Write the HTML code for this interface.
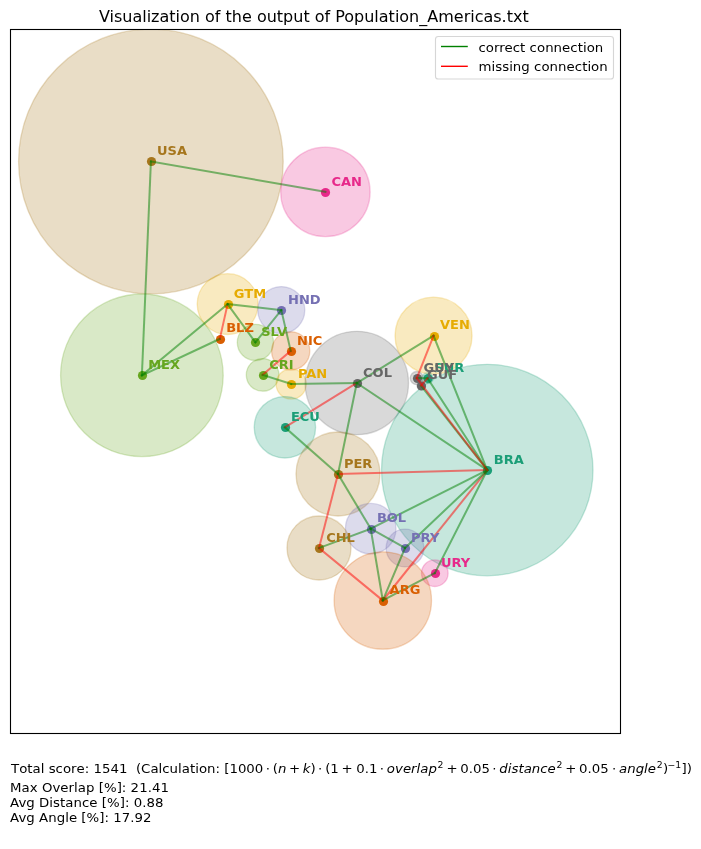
<!DOCTYPE html>
<html lang="en"><head><meta charset="utf-8"><title>Visualization of the output of Population_Americas.txt</title>
<style>html,body{margin:0;padding:0;background:#fff}body{width:701px;height:849px;overflow:hidden}svg{display:block;will-change:transform}text{font-family:"DejaVu Sans","Liberation Sans",sans-serif;fill:#000}.lbl{font-weight:bold;font-size:13.0px}.it{font-style:italic}</style></head><body>
<svg width="701" height="849" viewBox="0 0 701 849">
<rect width="701" height="849" fill="#fff"/>
<defs><clipPath id="ax"><rect x="10.5" y="29.5" width="610" height="704"/></clipPath></defs>
<g clip-path="url(#ax)">
<g stroke-width="1.33">
<circle cx="150.9" cy="161.5" r="132.3" fill="#a6761d" fill-opacity="0.25" stroke="#a6761d" stroke-opacity="0.25"/>
<circle cx="325.4" cy="191.9" r="44.7" fill="#e7298a" fill-opacity="0.25" stroke="#e7298a" stroke-opacity="0.25"/>
<circle cx="141.9" cy="375.3" r="81.3" fill="#66a61e" fill-opacity="0.25" stroke="#66a61e" stroke-opacity="0.25"/>
<circle cx="227.6" cy="304.1" r="30.4" fill="#e6ab02" fill-opacity="0.25" stroke="#e6ab02" stroke-opacity="0.25"/>
<circle cx="281.3" cy="310.1" r="23.5" fill="#7570b3" fill-opacity="0.25" stroke="#7570b3" stroke-opacity="0.25"/>
<circle cx="219.8" cy="338.9" r="1.5" fill="#d95f02" fill-opacity="0.25" stroke="#d95f02" stroke-opacity="0.25"/>
<circle cx="255.4" cy="342.4" r="18.1" fill="#66a61e" fill-opacity="0.25" stroke="#66a61e" stroke-opacity="0.25"/>
<circle cx="290.7" cy="350.9" r="19.1" fill="#d95f02" fill-opacity="0.25" stroke="#d95f02" stroke-opacity="0.25"/>
<circle cx="262.6" cy="374.9" r="16.3" fill="#66a61e" fill-opacity="0.25" stroke="#66a61e" stroke-opacity="0.25"/>
<circle cx="291.2" cy="384.0" r="15.1" fill="#e6ab02" fill-opacity="0.25" stroke="#e6ab02" stroke-opacity="0.25"/>
<circle cx="356.8" cy="383.0" r="51.7" fill="#666666" fill-opacity="0.25" stroke="#666666" stroke-opacity="0.25"/>
<circle cx="433.55" cy="335.7" r="38.5" fill="#e6ab02" fill-opacity="0.25" stroke="#e6ab02" stroke-opacity="0.25"/>
<circle cx="284.9" cy="427.3" r="30.7" fill="#1b9e77" fill-opacity="0.25" stroke="#1b9e77" stroke-opacity="0.25"/>
<circle cx="338.0" cy="474.0" r="42.0" fill="#a6761d" fill-opacity="0.25" stroke="#a6761d" stroke-opacity="0.25"/>
<circle cx="487.25" cy="470.1" r="105.75" fill="#1b9e77" fill-opacity="0.25" stroke="#1b9e77" stroke-opacity="0.25"/>
<circle cx="370.7" cy="528.7" r="25.3" fill="#7570b3" fill-opacity="0.25" stroke="#7570b3" stroke-opacity="0.25"/>
<circle cx="319.0" cy="548.0" r="32.0" fill="#a6761d" fill-opacity="0.25" stroke="#a6761d" stroke-opacity="0.25"/>
<circle cx="405.0" cy="548.0" r="18.9" fill="#7570b3" fill-opacity="0.25" stroke="#7570b3" stroke-opacity="0.25"/>
<circle cx="434.8" cy="573.2" r="13.3" fill="#e7298a" fill-opacity="0.25" stroke="#e7298a" stroke-opacity="0.25"/>
<circle cx="382.8" cy="600.5" r="48.7" fill="#d95f02" fill-opacity="0.25" stroke="#d95f02" stroke-opacity="0.25"/>
<circle cx="427.6" cy="378.2" r="5.5" fill="#1b9e77" fill-opacity="0.25" stroke="#1b9e77" stroke-opacity="0.25"/>
<circle cx="416.8" cy="378.1" r="6.6" fill="#666666" fill-opacity="0.25" stroke="#666666" stroke-opacity="0.25"/>
<circle cx="421.0" cy="385.6" r="4.0" fill="#666666" fill-opacity="0.25" stroke="#666666" stroke-opacity="0.25"/>
</g>
<g>
<circle cx="151.5" cy="161.5" r="4.6" fill="#a6761d"/>
<circle cx="325.5" cy="192.5" r="4.6" fill="#e7298a"/>
<circle cx="142.5" cy="375.5" r="4.6" fill="#66a61e"/>
<circle cx="228.5" cy="304.5" r="4.6" fill="#e6ab02"/>
<circle cx="281.5" cy="310.5" r="4.6" fill="#7570b3"/>
<circle cx="220.5" cy="339.5" r="4.6" fill="#d95f02"/>
<circle cx="255.5" cy="342.5" r="4.6" fill="#66a61e"/>
<circle cx="291.5" cy="351.5" r="4.6" fill="#d95f02"/>
<circle cx="263.5" cy="375.5" r="4.6" fill="#66a61e"/>
<circle cx="291.5" cy="384.5" r="4.6" fill="#e6ab02"/>
<circle cx="357.5" cy="383.5" r="4.6" fill="#666666"/>
<circle cx="434.5" cy="336.5" r="4.6" fill="#e6ab02"/>
<circle cx="285.5" cy="427.5" r="4.6" fill="#1b9e77"/>
<circle cx="338.5" cy="474.5" r="4.6" fill="#a6761d"/>
<circle cx="487.5" cy="470.5" r="4.6" fill="#1b9e77"/>
<circle cx="371.5" cy="529.5" r="4.6" fill="#7570b3"/>
<circle cx="319.5" cy="548.5" r="4.6" fill="#a6761d"/>
<circle cx="405.5" cy="548.5" r="4.6" fill="#7570b3"/>
<circle cx="435.5" cy="573.5" r="4.6" fill="#e7298a"/>
<circle cx="383.5" cy="601.5" r="4.6" fill="#d95f02"/>
<circle cx="428.0" cy="378.5" r="4.6" fill="#1b9e77"/>
<circle cx="417.5" cy="378.5" r="4.6" fill="#666666"/>
<circle cx="421.5" cy="386.0" r="4.6" fill="#666666"/>
</g>
<g stroke-width="2.0" stroke-opacity="0.5" stroke-linecap="square" fill="none">
<line x1="227.6" y1="304.1" x2="219.8" y2="338.9" stroke="#ff0000"/>
<line x1="290.7" y1="350.9" x2="262.6" y2="374.9" stroke="#ff0000"/>
<line x1="356.8" y1="383.0" x2="284.9" y2="427.3" stroke="#ff0000"/>
<line x1="338.0" y1="474.0" x2="487.25" y2="470.1" stroke="#ff0000"/>
<line x1="338.0" y1="474.0" x2="319.0" y2="548.0" stroke="#ff0000"/>
<line x1="319.0" y1="548.0" x2="382.8" y2="600.5" stroke="#ff0000"/>
<line x1="382.8" y1="600.5" x2="487.25" y2="470.1" stroke="#ff0000"/>
<line x1="150.9" y1="161.5" x2="325.4" y2="191.9" stroke="#008000"/>
<line x1="150.9" y1="161.5" x2="141.9" y2="375.3" stroke="#008000"/>
<line x1="141.9" y1="375.3" x2="227.6" y2="304.1" stroke="#008000"/>
<line x1="141.9" y1="375.3" x2="219.8" y2="338.9" stroke="#008000"/>
<line x1="227.6" y1="304.1" x2="281.3" y2="310.1" stroke="#008000"/>
<line x1="227.6" y1="304.1" x2="255.4" y2="342.4" stroke="#008000"/>
<line x1="281.3" y1="310.1" x2="255.4" y2="342.4" stroke="#008000"/>
<line x1="281.3" y1="310.1" x2="290.7" y2="350.9" stroke="#008000"/>
<line x1="262.6" y1="374.9" x2="291.2" y2="384.0" stroke="#008000"/>
<line x1="291.2" y1="384.0" x2="356.8" y2="383.0" stroke="#008000"/>
<line x1="356.8" y1="383.0" x2="433.55" y2="335.7" stroke="#008000"/>
<line x1="356.8" y1="383.0" x2="338.0" y2="474.0" stroke="#008000"/>
<line x1="356.8" y1="383.0" x2="487.25" y2="470.1" stroke="#008000"/>
<line x1="433.55" y1="335.7" x2="487.25" y2="470.1" stroke="#008000"/>
<line x1="284.9" y1="427.3" x2="338.0" y2="474.0" stroke="#008000"/>
<line x1="338.0" y1="474.0" x2="370.7" y2="528.7" stroke="#008000"/>
<line x1="370.7" y1="528.7" x2="319.0" y2="548.0" stroke="#008000"/>
<line x1="370.7" y1="528.7" x2="382.8" y2="600.5" stroke="#008000"/>
<line x1="370.7" y1="528.7" x2="405.0" y2="548.0" stroke="#008000"/>
<line x1="370.7" y1="528.7" x2="487.25" y2="470.1" stroke="#008000"/>
<line x1="405.0" y1="548.0" x2="382.8" y2="600.5" stroke="#008000"/>
<line x1="405.0" y1="548.0" x2="487.25" y2="470.1" stroke="#008000"/>
<line x1="382.8" y1="600.5" x2="434.8" y2="573.2" stroke="#008000"/>
<line x1="434.8" y1="573.2" x2="487.25" y2="470.1" stroke="#008000"/>
<line x1="416.8" y1="378.1" x2="427.6" y2="378.2" stroke="#008000"/>
<line x1="427.6" y1="378.2" x2="487.25" y2="470.1" stroke="#008000"/>
<line x1="421.0" y1="385.6" x2="487.25" y2="470.1" stroke="#008000"/>
<line x1="416.8" y1="378.1" x2="433.55" y2="335.7" stroke="#ff0000"/>
<line x1="416.8" y1="378.1" x2="487.25" y2="470.1" stroke="#ff0000"/>
<line x1="427.6" y1="378.2" x2="421.0" y2="385.6" stroke="#ff0000"/>
</g>
<g class="lbl">
<text x="157.0" y="155.3" style="fill:#a6761d">USA</text>
<text x="331.5" y="185.6" style="fill:#e7298a">CAN</text>
<text x="148.2" y="368.6" style="fill:#66a61e">MEX</text>
<text x="233.85" y="297.5" style="fill:#e6ab02">GTM</text>
<text x="288.0" y="303.5" style="fill:#7570b3">HND</text>
<text x="226.2" y="331.8" style="fill:#d95f02">BLZ</text>
<text x="261.15" y="336.2" style="fill:#66a61e">SLV</text>
<text x="297.1" y="344.5" style="fill:#d95f02">NIC</text>
<text x="269.15" y="369.1" style="fill:#66a61e">CRI</text>
<text x="297.9" y="377.5" style="fill:#e6ab02">PAN</text>
<text x="363.05" y="376.5" style="fill:#666666">COL</text>
<text x="440.0" y="328.8" style="fill:#e6ab02">VEN</text>
<text x="290.9" y="420.5" style="fill:#1b9e77">ECU</text>
<text x="343.9" y="467.7" style="fill:#a6761d">PER</text>
<text x="493.8" y="463.7" style="fill:#1b9e77">BRA</text>
<text x="376.9" y="522.1" style="fill:#7570b3">BOL</text>
<text x="326.15" y="541.7" style="fill:#a6761d">CHL</text>
<text x="411.1" y="541.7" style="fill:#7570b3">PRY</text>
<text x="441.0" y="566.6" style="fill:#e7298a">URY</text>
<text x="389.6" y="593.6" style="fill:#d95f02">ARG</text>
<text x="434.4" y="372.3" style="fill:#1b9e77">SUR</text>
<text x="423.55" y="372.2" style="fill:#666666">GUY</text>
<text x="427.05" y="379.3" style="fill:#666666">GUF</text>
</g>
</g>
<rect x="10.5" y="29.5" width="610" height="704" fill="none" stroke="#000" stroke-width="1.1"/>
<rect x="435.5" y="36.5" width="178" height="42.5" rx="2.8" ry="2.8" fill="#fff" fill-opacity="0.8" stroke="#ccc" stroke-opacity="0.8" stroke-width="1.1"/>
<line x1="441" y1="46.5" x2="467.8" y2="46.5" stroke="#008000" stroke-width="1.4"/>
<line x1="441" y1="66.3" x2="467.8" y2="66.3" stroke="#ff0000" stroke-width="1.4"/>
<text y="51.6" font-size="13.33" transform="matrix(1 0 0 0.925 0 3.870)"><tspan x="478.50 485.85 494.04 499.29 504.53 512.76 520.12">correct</tspan> <tspan x="529.61 536.97 545.15 553.63 562.10 570.33 577.69 582.93 586.65 594.83">connection</tspan></text>
<text y="71.4" font-size="13.33" transform="matrix(1 0 0 0.925 0 5.355)"><tspan x="478.45 491.48 495.19 502.16 509.13 512.85 521.32">missing</tspan> <tspan x="534.07 541.42 549.60 558.08 566.56 574.79 582.14 587.38 591.10 599.28">connection</tspan></text>
<text y="22" font-size="16"><tspan x="98.90 109.47 113.92 122.25 132.39 142.20 146.64 151.09 159.49 169.29 175.56 180.01 189.80">Visualization</tspan> <tspan x="205.03 214.81">of</tspan> <tspan x="225.53 231.81 241.95">the</tspan> <tspan x="256.88 266.67 276.81 283.08 293.24 303.38">output</tspan> <tspan x="314.74 324.52">of</tspan> <tspan x="335.24 344.27 354.06 364.21 374.35 378.80 388.60 394.88 399.32 409.11 419.25 427.25 438.20 453.78 463.63 470.20 474.65 483.45 493.25 501.59 506.67 512.95 522.42">Population_Americas.txt</tspan></text>
<text font-size="13.33" transform="matrix(1 0 0 0.925 0 57.975)"><tspan x="11.00 19.14 27.30 32.53 40.70" y="773.00">Total</tspan> <tspan x="48.64 55.59 62.92 71.08 76.56 84.76" y="773.00">score:</tspan> <tspan x="93.49 101.98 110.46 118.94" y="773.00">1541</tspan> <tspan x="135.90 141.10 150.41 158.58 162.29 169.62 178.07 181.77 189.95 195.17 198.88 207.04 215.49" y="773.00">(Calculation:</tspan> <tspan x="224.22 229.42 237.90 246.38 254.87" y="773.00">[1000</tspan> <tspan x="265.95" y="773.00">⋅</tspan> <tspan x="272.78" y="773.00">(</tspan><tspan x="277.99" y="773.00" class="it">n</tspan> <tspan x="289.03" y="773.00">+</tspan> <tspan x="302.80" y="773.00" class="it">k</tspan><tspan x="310.52" y="773.00">)</tspan> <tspan x="318.32" y="773.00">⋅</tspan> <tspan x="325.16 330.36" y="773.00">(1</tspan> <tspan x="341.44" y="773.00">+</tspan> <tspan x="356.21 364.70 368.93" y="773.00">0.1</tspan> <tspan x="380.01" y="773.00">⋅</tspan> <tspan x="386.85 395.01 402.90 411.10 416.58 420.29 428.46" y="773.00" class="it">overlap</tspan><tspan x="437.54" y="767.90" font-size="9.33">2</tspan> <tspan x="446.44" y="773.00">+</tspan> <tspan x="460.21 468.69 472.93 481.42" y="773.00">0.05</tspan> <tspan x="492.50" y="773.00">⋅</tspan> <tspan x="499.33 507.80 511.50 518.45 523.67 531.84 540.30 547.63" y="773.00" class="it">distance</tspan><tspan x="556.45" y="767.90" font-size="9.33">2</tspan> <tspan x="565.35" y="773.00">+</tspan> <tspan x="579.12 587.60 591.84 600.32" y="773.00">0.05</tspan> <tspan x="612.20" y="773.00">⋅</tspan> <tspan x="619.04 627.21 635.66 644.12 647.83" y="773.00" class="it">angle</tspan><tspan x="656.65" y="767.90" font-size="9.33">2</tspan><tspan x="662.95" y="773.00">)</tspan><tspan x="667.48 675.30" y="767.90" font-size="9.33">−1</tspan><tspan x="681.61 686.81" y="773.00">])</tspan></text>
<text y="792.0" font-size="13.33" transform="matrix(1 0 0 0.925 0 59.400)"><tspan x="10.00 21.54 29.74">Max</tspan> <tspan x="41.90 52.43 60.35 68.57 74.07 77.79 85.99">Overlap</tspan> <tspan x="98.73 103.95 116.65 121.87">[%]:</tspan> <tspan x="130.63 139.14 147.65 151.90 160.41">21.41</tspan></text>
<text y="807.0" font-size="13.33" transform="matrix(1 0 0 0.925 0 60.525)"><tspan x="10.00 18.40 26.31">Avg</tspan> <tspan x="39.06 49.36 53.07 60.04 65.28 73.48 81.96 89.31">Distance</tspan> <tspan x="101.79 107.01 119.72 124.94">[%]:</tspan> <tspan x="133.69 142.20 146.45 154.96">0.88</tspan></text>
<text y="822.0" font-size="13.33" transform="matrix(1 0 0 0.925 0 61.650)"><tspan x="10.00 18.40 26.31">Avg</tspan> <tspan x="39.06 48.21 56.68 65.17 68.89">Angle</tspan> <tspan x="81.37 86.59 99.30 104.51">[%]:</tspan> <tspan x="113.27 121.78 130.29 134.54 143.05">17.92</tspan></text>
</svg></body></html>
